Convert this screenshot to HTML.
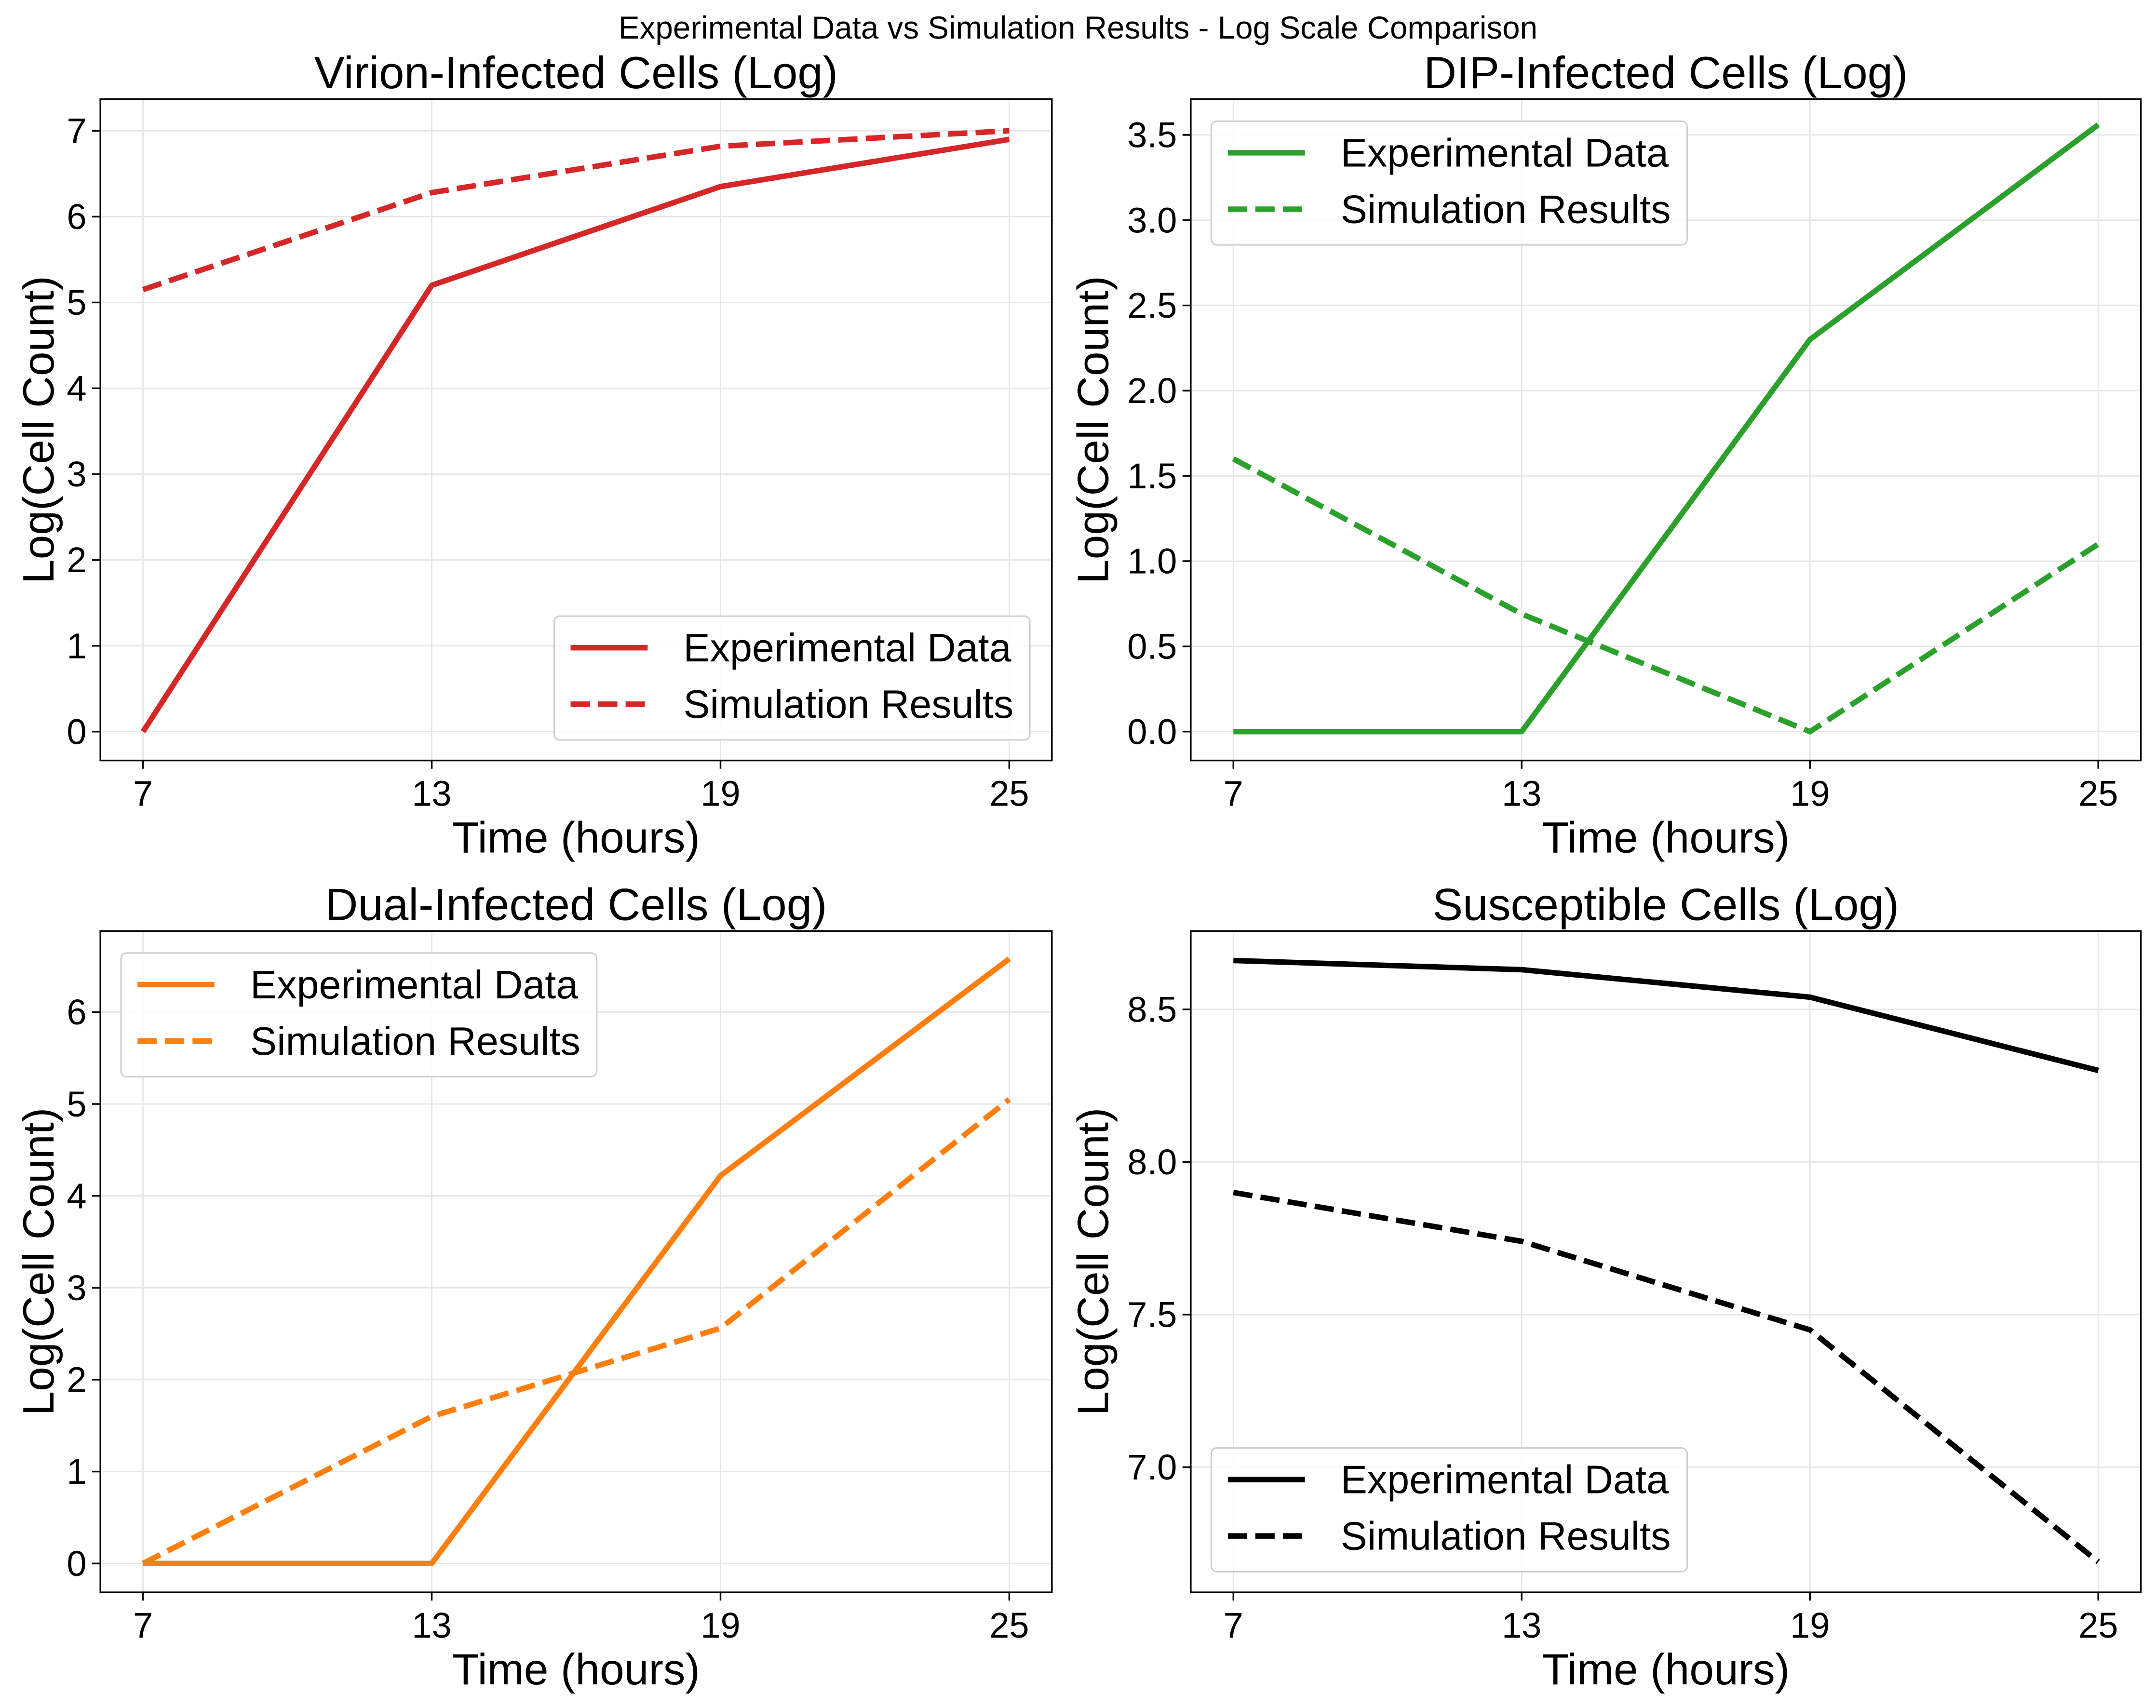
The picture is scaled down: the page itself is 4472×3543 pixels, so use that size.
<!DOCTYPE html>
<html><head><meta charset="utf-8">
<style>html,body{margin:0;padding:0;background:#fff}svg{display:block}</style>
</head><body>
<svg id="fig" width="4472" height="3543" viewBox="0 0 1568 1242" xmlns="http://www.w3.org/2000/svg" font-family="Liberation Sans, Arial, sans-serif">
<rect width="1568" height="1242" fill="#fff"/>
<text x="784" y="28" text-anchor="middle" font-size="23">Experimental Data vs Simulation Results - Log Scale Comparison</text>
</svg>
<script>
const times = [7, 13, 19, 25];
const virionExp = [0, 5.2, 6.35, 6.9];
const virionSim = [5.15, 6.28, 6.82, 7.0];
const dipExp = [0, 0, 2.3, 3.56];
const dipSim = [1.6, 0.69, 0, 1.1];
const dualExp = [0, 0, 4.22, 6.58];
const dualSim = [0, 1.6, 2.56, 5.05];
const suscExp = [8.66, 8.63, 8.54, 8.3];
const suscSim = [7.9, 7.74, 7.45, 6.69];
const virionTicks = [0,1,2,3,4,5,6,7];
const dipTicks = [0,0.5,1,1.5,2,2.5,3,3.5];
const dualTicks = [0,1,2,3,4,5,6];
const suscTicks = [7.0,7.5,8.0,8.5];

const NS = "http://www.w3.org/2000/svg";
const svg = document.getElementById('fig');
function mk(tag, attrs, parent){const e=document.createElementNS(NS,tag);for(const k in attrs)e.setAttribute(k,attrs[k]);(parent||svg).appendChild(e);return e;}

const panels = [
 {name:'virion', title:'Virion-Infected Cells (Log)', color:'#d62728', exp:virionExp, sim:virionSim, ticks:virionTicks, fmt:v=>v.toFixed(0),
  box:[73,72,765,553], y0:0, y0px:532, y1:7, y1px:95, legend:[403,448], yt:28},
 {name:'dip', title:'DIP-Infected Cells (Log)', color:'#2ca02c', exp:dipExp, sim:dipSim, ticks:dipTicks, fmt:v=>v.toFixed(1),
  box:[866,72,1557,553], y0:0, y0px:532, y1:3.5, y1px:98, legend:[881,88], yt:795},
 {name:'dual', title:'Dual-Infected Cells (Log)', color:'#ff7f0e', exp:dualExp, sim:dualSim, ticks:dualTicks, fmt:v=>v.toFixed(0),
  box:[73,677,765,1158], y0:0, y0px:1137, y1:6, y1px:736, legend:[88,693], yt:28},
 {name:'susceptible', title:'Susceptible Cells (Log)', color:'#000000', exp:suscExp, sim:suscSim, ticks:suscTicks, fmt:v=>v.toFixed(1),
  box:[866,677,1557,1158], y0:7.0, y0px:1067, y1:8.5, y1px:734, legend:[881,1053], yt:795}
];

panels.forEach(p=>{
 const [L,T,R,B]=p.box;
 const g=mk('g',{});
 
 
 const x0px=L+31, x1px=R-31;
 const xs=t=>x0px+(t-7)/(25-7)*(x1px-x0px);
 const ys=v=>p.y0px+(v-p.y0)/(p.y1-p.y0)*(p.y1px-p.y0px);
 times.forEach(t=>{mk('line',{x1:xs(t),x2:xs(t),y1:T,y2:B,stroke:'#e6e6e6','stroke-width':1},g);});
 p.ticks.forEach(v=>{mk('line',{x1:L,x2:R,y1:ys(v),y2:ys(v),stroke:'#e6e6e6','stroke-width':1},g);});
 const pts=arr=>arr.map((v,i)=>xs(times[i])+','+ys(v)).join(' ');
 const le=mk('polyline',{points:pts(p.exp),fill:'none',stroke:p.color,'stroke-width':4,'stroke-linejoin':'round'},g);
 
 
 const ls=mk('polyline',{points:pts(p.sim),fill:'none',stroke:p.color,'stroke-width':4,'stroke-dasharray':'14,6'},g);
 
 
 mk('rect',{x:L,y:T,width:R-L,height:B-T,fill:'none',stroke:'#000','stroke-width':1.2},g);
 times.forEach(t=>{
  mk('line',{x1:xs(t),x2:xs(t),y1:B,y2:B+6,stroke:'#000','stroke-width':1.2},g);
  const tx=mk('text',{x:xs(t),y:B+33,'text-anchor':'middle','font-size':26},g);tx.textContent=t;
  
  
 });
 p.ticks.forEach(v=>{
  mk('line',{x1:L-6,x2:L,y1:ys(v),y2:ys(v),stroke:'#000','stroke-width':1.2},g);
  const ty=mk('text',{x:L-10,y:ys(v)+9,'text-anchor':'end','font-size':26},g);ty.textContent=p.fmt(v);
  
  
 });
 const tt=mk('text',{x:(L+R)/2,y:T-8,'text-anchor':'middle','font-size':33},g);tt.textContent=p.title;
 
 
 const xl=mk('text',{x:(L+R)/2,y:B+67,'text-anchor':'middle','font-size':32},g);xl.textContent='Time (hours)';
 
 
 const yl=mk('text',{x:0,y:0,'text-anchor':'middle','font-size':32,transform:`translate(${p.yt+11},${(T+B)/2}) rotate(-90)`},g);yl.textContent='Log(Cell Count)';
 
 
 const [lx,ly]=p.legend;
 const lg=mk('g',{},g);
 
 
 mk('rect',{x:lx,y:ly,width:346,height:90,rx:4,fill:'#fff','fill-opacity':0.85,stroke:'#ccc','stroke-width':1},lg);
 mk('line',{x1:lx+12,x2:lx+68,y1:ly+23,y2:ly+23,stroke:p.color,'stroke-width':4},lg);
 const t1=mk('text',{x:lx+94,y:ly+33,'font-size':29},lg);t1.textContent='Experimental Data';
 
 
 mk('line',{x1:lx+12,x2:lx+68,y1:ly+64,y2:ly+64,stroke:p.color,'stroke-width':4,'stroke-dasharray':'14,6'},lg);
 const t2=mk('text',{x:lx+94,y:ly+74,'font-size':29},lg);t2.textContent='Simulation Results';
 
 
});
</script>
</body></html>
